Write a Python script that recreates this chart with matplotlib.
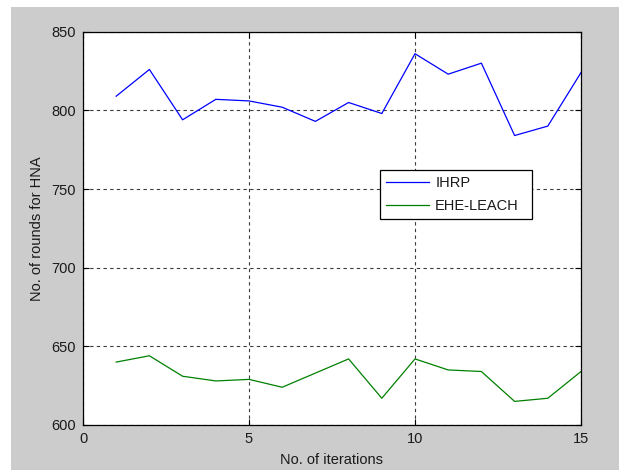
import matplotlib.pyplot as plt
import matplotlib.patches as patches

# ===== DATA =====
iterations = list(range(1, 16))
ihrp = [809, 826, 794, 807, 806, 802, 793, 805, 798, 836, 823, 830, 784, 790, 824]
ehe_leach = [640, 644, 631, 628, 629, 624, 633, 642, 617, 642, 635, 634, 615, 617, 634]
x_ticks = [0, 5, 10, 15]
y_ticks = [600, 650, 700, 750, 800, 850]

plt.rcParams['font.family'] = ['Liberation Sans', 'DejaVu Sans']
plt.rcParams['font.size'] = 10.5
text_color = '#1a1a1a'

fig = plt.figure(figsize=(6.19, 4.70), dpi=100)
fig.patch.set_facecolor('white')
# gray MATLAB figure background, leaving the thin white strip at left/top
fig.patches.append(patches.Rectangle((11/619, 0), 1, (470 - 7)/470,
                                     transform=fig.transFigure, facecolor='#cccccc',
                                     edgecolor='none', zorder=-10))

ax = fig.add_axes([83/619, 45/470, 498/619, 393.3/470])
ax.set_facecolor('white')

ax.plot(iterations, ihrp, color='#0000ff', linewidth=0.9, label='IHRP')
ax.plot(iterations, ehe_leach, color='#008000', linewidth=0.9, label='EHE-LEACH')

ax.set_xlim(0, 15)
ax.set_ylim(600, 850)
ax.set_xticks(x_ticks)
ax.set_yticks(y_ticks)
ax.tick_params(direction='in', length=4, width=0.8, colors='black',
               labelcolor=text_color, top=True, right=True, pad=5)
for sp in ax.spines.values():
    sp.set_linewidth(0.9)
    sp.set_color('black')

ax.grid(True, color='#3a3a3a', linestyle=(0, (3, 3)), linewidth=0.8)

ax.set_xlabel('No. of iterations', color=text_color, labelpad=5)
ax.set_ylabel('No. of rounds for HNA', color=text_color, labelpad=5)

leg = ax.legend(loc='lower left', bbox_to_anchor=(0.596, 0.524, 0.306, 0.122),
                mode='expand', fancybox=False, framealpha=1, edgecolor='black',
                handlelength=3.0, handletextpad=0.4, borderpad=0.4,
                labelspacing=0.6, borderaxespad=0)
leg.get_frame().set_linewidth(0.9)
for t in leg.get_texts():
    t.set_color(text_color)

fig.savefig('out.png', dpi=100)
